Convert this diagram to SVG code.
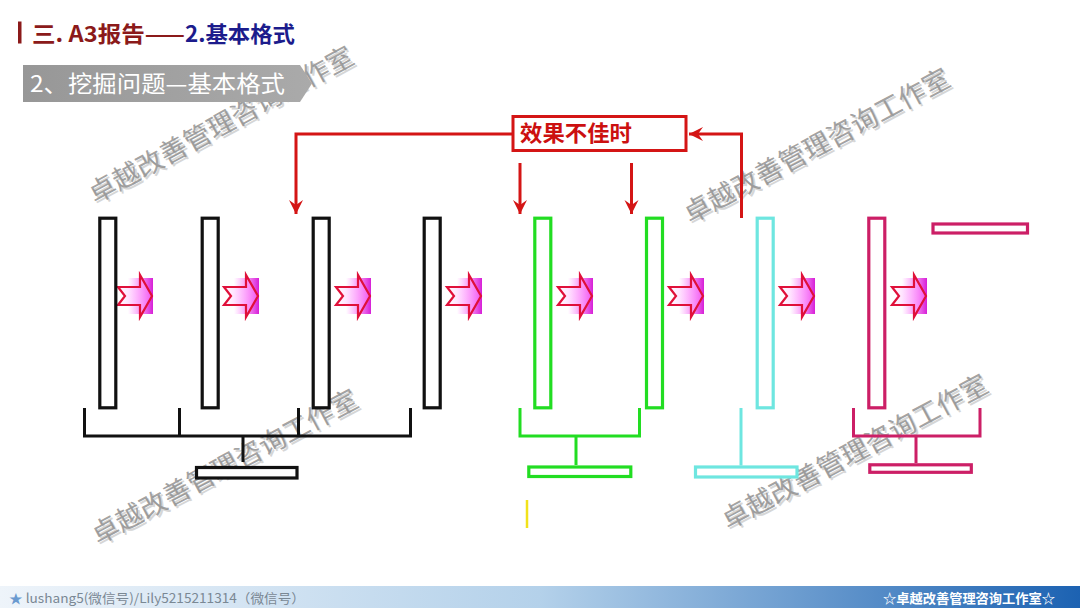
<svg xmlns="http://www.w3.org/2000/svg" xmlns:xlink="http://www.w3.org/1999/xlink" width="1080" height="608" viewBox="0 0 1080 608">
<style>
.cjk{font-family:"Noto Sans CJK SC","Noto Sans",sans-serif;}
.bar{fill:#fff;stroke-width:3.2;}
.blk{stroke:#111;fill:none;stroke-width:3;}
.grn{stroke:#22dd22;fill:none;stroke-width:3;}
.cyn{stroke:#6ee6e0;fill:none;stroke-width:3;}
.mag{stroke:#cc1f66;fill:none;stroke-width:3;}
.red{stroke:#d41515;fill:none;stroke-width:3;}
.wm{font-size:27px;fill:#8a8a8a;fill-opacity:0.8;}
.wms{font-size:27px;fill:#d6d6d6;}
</style>
<defs>
<linearGradient id="ftr" x1="0" y1="0" x2="1" y2="0">
<stop offset="0" stop-color="#eef4fa"/>
<stop offset="0.5" stop-color="#b4d1ea"/>
<stop offset="1" stop-color="#1c62b2"/>
</linearGradient>
<linearGradient id="ban" x1="0" y1="0" x2="1" y2="0">
<stop offset="0" stop-color="#979797"/>
<stop offset="1" stop-color="#aaaaaa"/>
</linearGradient>
<linearGradient id="glow" x1="0" y1="0" x2="1" y2="0">
<stop offset="0" stop-color="#ff44ff" stop-opacity="0"/>
<stop offset="1" stop-color="#d61fd6" stop-opacity="1"/>
</linearGradient>
<linearGradient id="afill" x1="0" y1="0" x2="1" y2="0">
<stop offset="0" stop-color="#ffffff" stop-opacity="0.7"/>
<stop offset="1" stop-color="#ff77ff" stop-opacity="0.6"/>
</linearGradient>
<marker id="ah" markerUnits="userSpaceOnUse" markerWidth="16" markerHeight="16" refX="14" refY="7" orient="auto">
<path d="M0,0 L14,7 L0,14 L5,7 z" fill="#d41515"/>
</marker>
<g id="barrow">
<rect x="10" y="-18" width="25" height="36" fill="url(#glow)"/>
<polygon points="0,-9 22,-9 22,-21 34,0 22,21 22,9 0,9 7,0" fill="url(#afill)" stroke="#e0103a" stroke-width="2.2" stroke-linejoin="miter"/>
</g>
</defs>
<rect width="1080" height="608" fill="#ffffff"/>

<!-- watermarks -->
<g id="watermarks" class="cjk">
<text class="wms" transform="translate(97,206) rotate(-28.5)">卓越改善管理咨询工作室</text>
<text class="wm" transform="translate(95,204) rotate(-28.5)">卓越改善管理咨询工作室</text>
<text class="wms" transform="translate(692,226) rotate(-28)">卓越改善管理咨询工作室</text>
<text class="wm" transform="translate(690,224) rotate(-28)">卓越改善管理咨询工作室</text>
<text class="wms" transform="translate(100,547) rotate(-28)">卓越改善管理咨询工作室</text>
<text class="wm" transform="translate(98,545) rotate(-28)">卓越改善管理咨询工作室</text>
<text class="wms" transform="translate(730,532) rotate(-28)">卓越改善管理咨询工作室</text>
<text class="wm" transform="translate(728,530) rotate(-28)">卓越改善管理咨询工作室</text>
</g>

<!-- header -->
<g id="header">
<rect x="18" y="21.5" width="3.5" height="22" fill="#8b1a1a"/>
<text class="cjk" x="32" y="41.5" font-size="22" font-weight="bold" fill="#8b1a1a" textLength="153" lengthAdjust="spacingAndGlyphs">三. A3报告——</text>
<text class="cjk" x="185" y="41.5" font-size="22" font-weight="bold" fill="#1c1c8c" textLength="110" lengthAdjust="spacingAndGlyphs">2.基本格式</text>
</g>
<g id="banner">
<polygon points="23,65 300,65 312,83.5 300,102 23,102" fill="url(#ban)"/>
<text class="cjk" x="30" y="92" font-size="23" fill="#ffffff" textLength="255" lengthAdjust="spacingAndGlyphs">2、挖掘问题—基本格式</text>
</g>

<!-- connectors -->
<g id="connectors">
<path class="red" d="M513,134 H296 V214" marker-end="url(#ah)"/>
<path class="red" d="M520,163 V214" marker-end="url(#ah)"/>
<path class="red" d="M631.5,163 V214" marker-end="url(#ah)"/>
<path class="red" d="M741.5,218 V134 H689" marker-end="url(#ah)"/>
<!-- block arrows -->
<use xlink:href="#barrow" href="#barrow" x="118" y="296"/>
<use xlink:href="#barrow" href="#barrow" x="224" y="296"/>
<use xlink:href="#barrow" href="#barrow" x="336" y="296"/>
<use xlink:href="#barrow" href="#barrow" x="447" y="296"/>
<use xlink:href="#barrow" href="#barrow" x="558" y="296"/>
<use xlink:href="#barrow" href="#barrow" x="669" y="296"/>
<use xlink:href="#barrow" href="#barrow" x="780" y="296"/>
<use xlink:href="#barrow" href="#barrow" x="892" y="296"/>
<!-- brackets -->
<path class="blk" d="M84.5,408 V436 H410.5 V408 M179.5,408 V436 M298.5,408 V436 M243,436 V462"/>
<path class="grn" d="M520,408 V436 H639.5 V408 M576,436 V465"/>
<path class="cyn" d="M741,408 V465.5"/>
<path class="mag" d="M853.5,408 V436 H980 V408 M916,436 V463"/>
<line x1="527" y1="500" x2="527" y2="528" stroke="#f2e21a" stroke-width="2.5"/>
</g>

<!-- feedback box -->
<g id="node-feedback">
<rect x="513" y="116.5" width="173" height="34" fill="#ffffff" stroke="#d41515" stroke-width="3"/>
<text class="cjk" x="520" y="140.5" font-size="22" font-weight="bold" fill="#cc1010" textLength="112" lengthAdjust="spacingAndGlyphs">效果不佳时</text>
</g>

<!-- bars -->
<g id="node-b1"><rect class="bar" x="99.8" y="218.2" width="16" height="189.6" stroke="#111"/></g>
<g id="node-b2"><rect class="bar" x="202.2" y="218.2" width="16" height="189.6" stroke="#111"/></g>
<g id="node-b3"><rect class="bar" x="313.2" y="218.2" width="16" height="189.6" stroke="#111"/></g>
<g id="node-b4"><rect class="bar" x="424.2" y="218.2" width="16" height="189.6" stroke="#111"/></g>
<g id="node-g1"><rect class="bar" x="534.8" y="218.2" width="16" height="189.6" stroke="#22dd22"/></g>
<g id="node-g2"><rect class="bar" x="646.5" y="218.2" width="16" height="189.6" stroke="#22dd22"/></g>
<g id="node-c1"><rect class="bar" x="757.2" y="218.2" width="16" height="189.6" stroke="#6ee6e0"/></g>
<g id="node-m1"><rect class="bar" x="868.8" y="218.2" width="16" height="189.6" stroke="#cc1f66"/></g>
<g id="node-m2"><rect class="bar" x="933" y="224" width="94.5" height="9" stroke="#cc1f66"/></g>

<!-- bottom bars -->
<g id="node-blk-base"><rect class="bar" x="196.5" y="467.5" width="100.5" height="10.5" stroke="#111"/></g>
<g id="node-grn-base"><rect class="bar" x="528.8" y="467" width="102" height="9.5" stroke="#22dd22"/></g>
<g id="node-cyn-base"><rect class="bar" x="695.5" y="467" width="101.5" height="10" stroke="#6ee6e0"/></g>
<g id="node-mag-base"><rect class="bar" x="869.8" y="464.8" width="101.5" height="7.5" stroke="#cc1f66"/></g>

<!-- footer -->
<g id="footer">
<rect x="0" y="586" width="1080" height="22" fill="url(#ftr)"/>
<text class="cjk" x="9" y="603" font-size="13" fill="#7a8894" textLength="296" lengthAdjust="spacingAndGlyphs"><tspan fill="#6a9ad0">★</tspan> lushang5(微信号)/Lily5215211314（微信号）</text>
<text class="cjk" x="883" y="603" font-size="13" font-weight="bold" fill="#ffffff" textLength="172" lengthAdjust="spacingAndGlyphs">☆卓越改善管理咨询工作室☆</text>
</g>
</svg>
